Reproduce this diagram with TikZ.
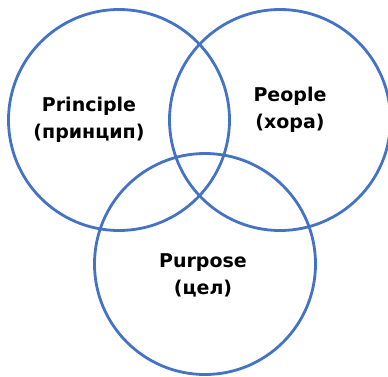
\documentclass[tikz,border=0pt]{standalone}
\usepackage{fontspec}
\setmainfont{DejaVu Sans}
\usetikzlibrary{positioning}
\definecolor{ringblue}{HTML}{4472C4}
\tikzset{>=latex}

\begin{document}
\begin{tikzpicture}[x=1pt, y=-1pt, every node/.style={font=\bfseries\fontsize{19}{27}\selectfont, align=center}]
	\useasboundingbox (0,0) rectangle (388,376);
	\tikzset{ring/.style={draw=ringblue, line width=2.8pt, circle, inner sep=0pt, minimum size=221pt}}
	\node[ring] (principle) at (119,120) {};
	\node[ring] (people)    at (280,120) {};
	\node[ring] (purpose)   at (205,264) {};
	
	\node (principletext) at (89,120)  {Principle\\(принцип)};
	\node (peopletext)    at (290,110) {People\\(хора)};
	\node (purposetext)   at (203,275) {Purpose\\(цел)};
\end{tikzpicture}
\end{document}
